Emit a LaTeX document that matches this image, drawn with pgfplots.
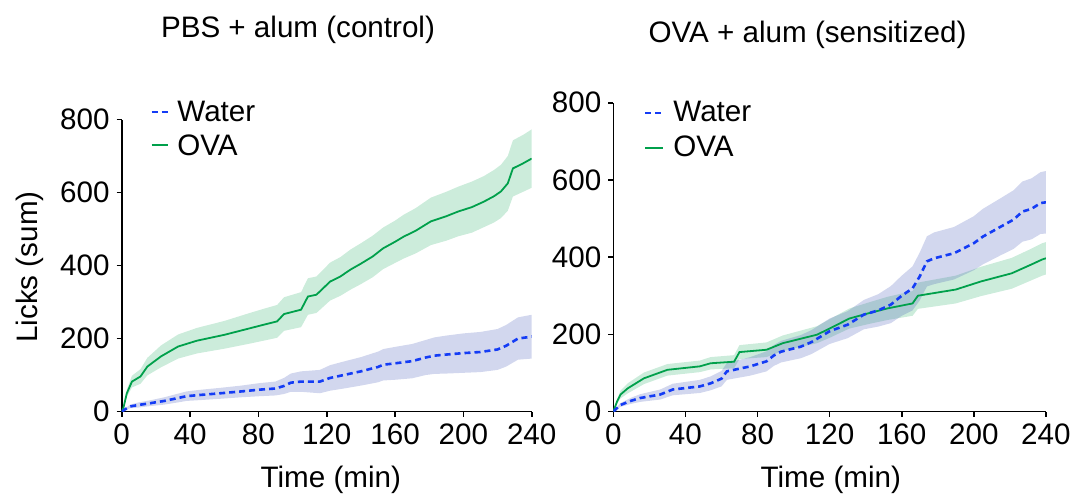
\documentclass[border=0pt]{standalone}
\usepackage{fontspec}
\setmainfont{Liberation Sans}
\usepackage{pgfplots}
\usepackage{pgfplotstable}
\pgfplotsset{compat=1.18}
\usepgfplotslibrary{fillbetween}

\definecolor{ovagreen}{RGB}{0,160,75}
\definecolor{waterblue}{RGB}{20,60,245}
\definecolor{bandblue}{RGB}{60,80,180}

% t mean sd
\pgfplotstableread{
t m s
0 0 0
2 6 2
5 14 5
10 18 7
17 23 8
25 29 10
33 37 12
38 42 13
45 45 14
58 50 15
70 55 16
81 60 18
90 63 19
95 70 22
99 79 25
105 82 28
116 82 32
122 92 35
130 100 37
140 110 39
150 122 42
153 128 43
160 132 45
170 138 47
178 148 48
183 153 50
190 156 52
200 160 54
210 163 55
220 170 56
225 180 57
232 200 58
240 205 60
}\leftwater

\pgfplotstableread{
t m s
0 0 0
1 10 3
3 50 10
6 82 16
11 96 20
15 123 24
23 151 30
33 178 33
44 194 35
60 210 38
75 228 42
85 240 44
91 247 45
95 267 46
105 279 48
109 315 50
114 320 50
122 356 52
128 370 53
134 389 55
140 405 56
147 425 57
153 447 57
160 465 58
165 479 60
172 495 62
181 521 65
190 535 67
197 548 68
205 560 70
212 575 70
218 590 72
222 603 73
226 625 75
229 666 77
235 680 78
240 693 80
}\leftova

\pgfplotstableread{
t m s
0 0 0
4 17 5
10 28 8
15 35 10
26 44 13
33 57 15
48 65 17
54 73 18
60 85 20
63 104 22
76 117 24
85 130 26
89 145 27
93 155 28
104 168 30
110 180 31
115 194 32
120 208 33
130 225 35
139 251 38
147 262 42
154 277 48
160 300 52
166 319 57
170 350 62
174 389 65
178 397 67
189 410 68
200 436 70
205 453 72
215 479 74
222 497 76
227 518 78
232 525 79
237 540 80
240 542 81
}\rightwater

\pgfplotstableread{
t m s
0 0 0
2 25 6
4 44 10
8 60 13
17 86 15
30 108 15
48 117 15
54 125 16
67 129 17
70 154 18
85 160 19
94 177 20
113 199 22
120 215 24
131 241 26
142 255 28
152 267 30
166 280 32
169 300 34
190 316 36
204 337 38
221 358 40
232 381 41
238 394 42
240 397 42
}\rightova

\pgfplotsset{
  licks/.style={
    scale only axis,
    axis lines*=left,
    axis line style={line width=0.8pt},
    tick align=outside,
    major tick length=2.5pt,
    tick style={line width=0.8pt, black},
    xmin=0, xmax=240, ymin=0, ymax=800,
    xtick={0,40,...,240},
    ytick={0,200,...,800},
    /pgf/number format/assume math mode=true,
    tick label style={font=\fontsize{14.8}{17}\selectfont},
  },
  bandw/.style={fill=bandblue, fill opacity=0.23, draw=none},
  bando/.style={fill=ovagreen, fill opacity=0.2, draw=none},
}

\begin{document}
\begin{tikzpicture}

% ---------- left panel ----------
\begin{axis}[licks, at={(60.85pt,41.25pt)}, anchor=south west,
  width=205pt, height=146pt]
\addplot[name path=owu, draw=none] table[x=t, y expr={\thisrow{m}+\thisrow{s}}] {\leftova};
\addplot[name path=owl, draw=none] table[x=t, y expr={max(\thisrow{m}-\thisrow{s},0)}] {\leftova};
\addplot[bando] fill between[of=owu and owl];
\addplot[name path=wwu, draw=none] table[x=t, y expr={\thisrow{m}+\thisrow{s}}] {\leftwater};
\addplot[name path=wwl, draw=none] table[x=t, y expr={max(\thisrow{m}-\thisrow{s},0)}] {\leftwater};
\addplot[bandw] fill between[of=wwu and wwl];
\addplot[ovagreen, line width=0.9pt] table[x=t, y=m] {\leftova};
\addplot[waterblue, line width=1.3pt, dash pattern=on 3pt off 2pt] table[x=t, y=m] {\leftwater};
\end{axis}

% ---------- right panel ----------
\begin{axis}[licks, at={(306.65pt,41.25pt)}, anchor=south west,
  width=216.3pt, height=154.4pt]
\addplot[name path=rou, draw=none] table[x=t, y expr={\thisrow{m}+\thisrow{s}}] {\rightova};
\addplot[name path=rol, draw=none] table[x=t, y expr={max(\thisrow{m}-\thisrow{s},0)}] {\rightova};
\addplot[bando] fill between[of=rou and rol];
\addplot[name path=rwu, draw=none] table[x=t, y expr={\thisrow{m}+\thisrow{s}}] {\rightwater};
\addplot[name path=rwl, draw=none] table[x=t, y expr={max(\thisrow{m}-\thisrow{s},0)}] {\rightwater};
\addplot[bandw] fill between[of=rwu and rwl];
\addplot[ovagreen, line width=0.9pt] table[x=t, y=m] {\rightova};
\addplot[waterblue, line width=1.3pt, dash pattern=on 3pt off 2pt] table[x=t, y=m] {\rightwater};
\end{axis}

% ---------- titles and labels ----------
\begin{scope}[every node/.style={font=\fontsize{14.8}{17}\selectfont, inner sep=0pt}]
\node[anchor=base] at (149pt,228.3pt) {PBS + alum (control)};
\node[anchor=base] at (403.75pt,225.6pt) {OVA + alum (sensitized)};
\node[anchor=base] at (165.4pt,3.35pt) {Time (min)};
\node[anchor=base] at (415.4pt,3.35pt) {Time (min)};
\node[anchor=base, rotate=90] at (18.5pt,113.5pt) {Licks (sum)};
% legends
\draw[waterblue, line width=1.1pt, dash pattern=on 3pt off 2pt] (75.85pt,191pt) -- (84.15pt,191pt);
\draw[ovagreen, line width=1.1pt] (75.85pt,174.5pt) -- (84.15pt,174.5pt);
\node[anchor=base west] at (88.5pt,186.15pt) {Water};
\node[anchor=base west] at (88.5pt,169.5pt) {OVA};
\draw[waterblue, line width=1.1pt, dash pattern=on 3pt off 2pt] (322.5pt,190.65pt) -- (331.35pt,190.65pt);
\draw[ovagreen, line width=1.1pt] (322.5pt,173pt) -- (331.35pt,173pt);
\node[anchor=base west] at (336.5pt,186.15pt) {Water};
\node[anchor=base west] at (336.5pt,168.65pt) {OVA};
\end{scope}
\pgfresetboundingbox
\useasboundingbox (0,0) rectangle (539.5pt,247pt);
\end{tikzpicture}
\end{document}
